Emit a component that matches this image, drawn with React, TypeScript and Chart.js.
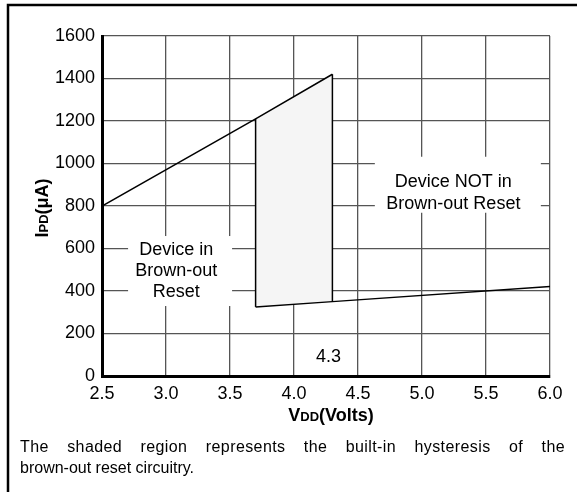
import React, { useEffect, useRef } from 'react';
import { Chart, registerables } from 'chart.js';

Chart.register(...registerables);

// ---- data ----
const xMin = 2.5;
const xMax = 6.0;
const xStep = 0.5;
const yMin = 0;
const yMax = 1600;
const yStep = 200;

// upper (rising) boundary line: VDD (V) vs IPD (uA)
const upperV = [2.5, 3.7, 4.3];
const upperI = [800, 1210, 1420];
// lower boundary line
const lowerV = [3.7, 4.3, 6.0];
const lowerI = [325, 350, 421];
// hysteresis (shaded) region
const hystV = [3.7, 4.3];
const hystTop = [1210, 1420];
const hystBottom = [325, 350];

const regionLabels = [
  { lines: ['Device NOT in', 'Brown-out Reset'], v: 5.245, i: 862, boxV: 5.28, boxI: 900, boxW: 166, boxH: 56, lh: 22 },
  { lines: ['Device in', 'Brown-out', 'Reset'], v: 3.08, i: 494, boxV: 3.11, boxI: 494, boxW: 104, boxH: 70, lh: 21 },
];
const markerLabel = { text: '4.3', v: 4.27, i: 88 };

const footerLine1 = 'The shaded region represents the built-in hysteresis of the';
const footerLine2 = 'brown-out reset circuitry.';

const FONT = '"Liberation Sans", Arial, sans-serif';

const pts = (xs: number[], ys: number[]) => xs.map((x, k) => ({ x, y: ys[k] }));

export default function App() {
  const ref = useRef<HTMLCanvasElement | null>(null);

  useEffect(() => {
    if (!ref.current) return;

    const decor = {
      id: 'decor',
      beforeDatasetsDraw(chart: any) {
        const { ctx, scales } = chart;
        ctx.save();
        ctx.fillStyle = '#ffffff';
        regionLabels.forEach((l) => {
          const cx = scales.x.getPixelForValue(l.boxV);
          const cy = scales.y.getPixelForValue(l.boxI);
          ctx.fillRect(cx - l.boxW / 2, cy - l.boxH / 2, l.boxW, l.boxH);
        });
        ctx.restore();
      },
      afterDatasetsDraw(chart: any) {
        const { ctx, scales } = chart;
        ctx.save();
        ctx.fillStyle = '#000';
        ctx.font = `18px ${FONT}`;
        ctx.textAlign = 'center';
        ctx.textBaseline = 'middle';
        regionLabels.forEach((l) => {
          const cx = scales.x.getPixelForValue(l.v);
          const cy = scales.y.getPixelForValue(l.i);
          const start = cy - ((l.lines.length - 1) * l.lh) / 2;
          l.lines.forEach((t, k) => ctx.fillText(t, cx, start + k * l.lh));
        });
        ctx.fillText(
          markerLabel.text,
          scales.x.getPixelForValue(markerLabel.v),
          scales.y.getPixelForValue(markerLabel.i)
        );
        ctx.restore();
      },
      afterDraw(chart: any) {
        const { ctx, chartArea } = chart;
        ctx.save();
        ctx.fillStyle = '#000';
        ctx.textBaseline = 'alphabetic';
        const big = `bold 18px ${FONT}`;
        const small = `bold 13px ${FONT}`;
        const drawParts = (parts: [string, string][], cx: number, by: number) => {
          let w = 0;
          parts.forEach(([t, f]) => {
            ctx.font = f;
            w += ctx.measureText(t).width;
          });
          let x = cx - w / 2;
          ctx.textAlign = 'left';
          parts.forEach(([t, f]) => {
            ctx.font = f;
            ctx.fillText(t, x, by);
            x += ctx.measureText(t).width;
          });
        };
        // x title
        drawParts(
          [
            ['V', big],
            ['DD', small],
            ['(Volts)', big],
          ],
          331,
          421
        );
        // y title
        ctx.save();
        ctx.translate(48, (chartArea.top + chartArea.bottom) / 2 + 2);
        ctx.rotate(-Math.PI / 2);
        drawParts(
          [
            ['I', big],
            ['PD', small],
            ['(\u03bcA)', big],
          ],
          0,
          0
        );
        ctx.restore();
        // outer frame
        ctx.strokeStyle = '#000';
        ctx.lineWidth = 2.5;
        ctx.beginPath();
        ctx.moveTo(8, 492);
        ctx.lineTo(8, 5);
        ctx.lineTo(577, 5);
        ctx.stroke();
        ctx.restore();
      },
    };

    const lineDs = (data: any[], extra: any = {}) => ({
      data,
      borderColor: '#000',
      borderWidth: 1.5,
      pointRadius: 0,
      fill: false,
      tension: 0,
      ...extra,
    });

    const chart = new Chart(ref.current, {
      type: 'line',
      data: {
        datasets: [
          lineDs(pts(hystV, hystTop), { borderWidth: 0, fill: '+1', backgroundColor: '#f5f5f5' }),
          lineDs(pts(hystV, hystBottom), { borderWidth: 0 }),
          lineDs(pts(upperV, upperI)),
          lineDs(pts(lowerV, lowerI)),
          lineDs(pts([hystV[0], hystV[0]], [hystBottom[0], hystTop[0]])),
          lineDs(pts([hystV[1], hystV[1]], [hystBottom[1], hystTop[1]])),
        ],
      },
      options: {
        responsive: false,
        animation: false,
        devicePixelRatio: 1,
        layout: { padding: { left: 0, top: 36, right: 27, bottom: 0 } },
        plugins: {
          legend: { display: false },
          tooltip: { enabled: false },
          filler: { drawTime: 'beforeDatasetsDraw' },
        } as any,
        scales: {
          x: {
            type: 'linear',
            min: xMin,
            max: xMax,
            afterFit: (s: any) => {
              s.height = 116;
            },
            ticks: {
              stepSize: xStep,
              color: '#000',
              font: { family: FONT, size: 18 },
              padding: 7,
              maxRotation: 0,
              callback: (v: any) => Number(v).toFixed(1),
            },
            grid: { color: '#555', lineWidth: 1.3, drawTicks: false },
            border: { color: '#000', width: 3 },
          },
          y: {
            type: 'linear',
            min: yMin,
            max: yMax,
            afterFit: (s: any) => {
              s.width = 102;
            },
            ticks: {
              stepSize: yStep,
              color: '#000',
              font: { family: FONT, size: 18 },
              padding: 7,
              callback: (v: any) => String(v),
            },
            grid: { color: '#555', lineWidth: 1.3, drawTicks: false },
            border: { color: '#000', width: 3 },
          },
        },
      },
      plugins: [decor],
    } as any);

    return () => chart.destroy();
  }, []);

  return (
    <div style={{ position: 'absolute', left: 0, top: 0, width: 577, height: 492, background: '#fff' }}>
      <canvas ref={ref} width={577} height={492} style={{ position: 'absolute', left: 0, top: 0 }} />
      <div
        style={{
          position: 'absolute',
          left: 20,
          top: 436,
          width: 545,
          fontFamily: FONT,
          fontSize: 16,
          lineHeight: '21px',
          color: '#000',
        }}
      >
        <div style={{ textAlign: 'justify', textAlignLast: 'justify', letterSpacing: '0.4px' } as any}>{footerLine1}</div>
        <div>{footerLine2}</div>
      </div>
    </div>
  );
}
